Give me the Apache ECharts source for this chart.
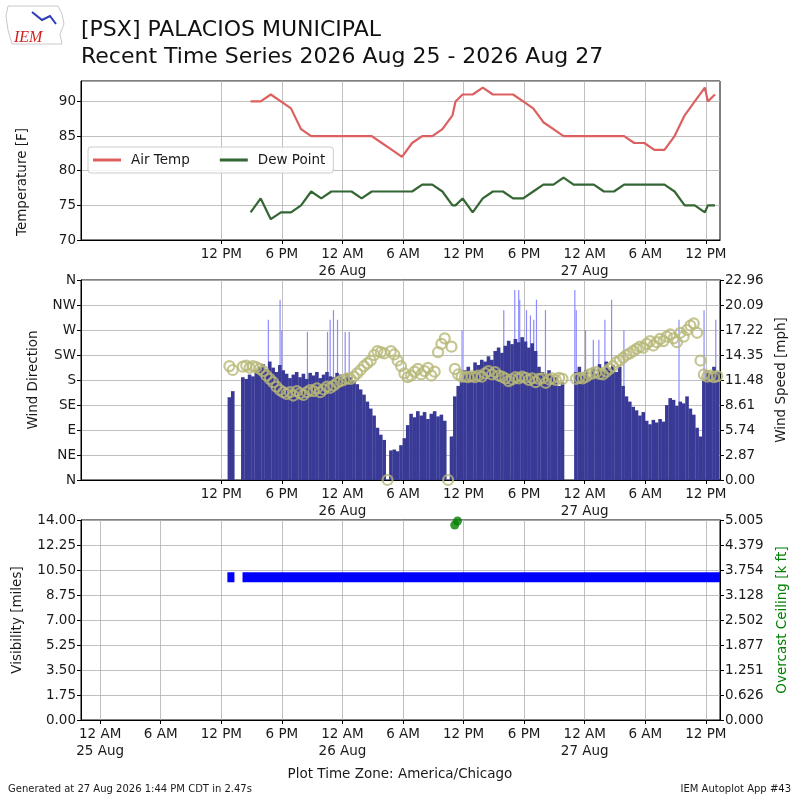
<!DOCTYPE html>
<html>
<head>
<meta charset="utf-8">
<title>PSX Recent Time Series</title>
<script src="https://cdn.jsdelivr.net/npm/echarts@6.0.0/dist/echarts.min.js"></script>
<style>
html, body { margin:0; padding:0; background:#fff; }
#chartDiv { width:800px; height:800px; }
</style>
</head>
<body>
<div id="chartDiv"></div>
<script>
// all times are hours counted from 25 Aug 2026 12 AM (America/Chicago)
var obsHours = [14.9, 15.9, 16.9, 17.9, 18.9, 19.9, 20.9, 21.9, 22.9, 23.9, 24.9, 25.9, 26.9, 27.9, 28.9,
    29.9, 30.9, 31.9, 32.9, 33.9, 34.9, 35.2, 35.9, 36.9, 37.9, 38.9, 39.9, 40.9, 41.9, 42.9, 43.9,
    44.9, 45.9, 46.9, 47.9, 48.9, 49.9, 50.9, 51.9, 52.9, 53.9, 54.9, 55.9, 56.9, 57.9, 58.9, 59.9,
    60.2, 60.9];
var airTemp = [90, 90, 91, 90, 89, 86, 85, 85, 85, 85, 85, 85, 85, 84, 83, 82, 84, 85, 85, 86, 88,
    90, 91, 91, 92, 91, 91, 91, 90, 89, 87, 86, 85, 85, 85, 85, 85, 85, 85, 84, 84, 83, 83, 85, 88,
    90, 92, 90, 91];
var dewPoint = [74, 76, 73, 74, 74, 75, 77, 76, 77, 77, 77, 76, 77, 77, 77, 77, 77, 78, 78, 77, 75,
    75, 76, 74, 76, 77, 77, 76, 76, 77, 78, 78, 79, 78, 78, 78, 77, 77, 78, 78, 78, 78, 78, 77, 75,
    75, 74, 75, 75];

// wind, one value per 20 minutes starting at windStart
var windStart = 12.8;
var windStep = 1 / 3;
var windSpeed = [9.5, 10.2, null, null, 11.8, 11.6, 12.1, 11.9,
    12.6, 13.0, 13.3, 12.7, 13.6, 12.9, 12.4, 13.2, 12.6,
    12.2, 11.7, 12.1, 12.4, 11.8, 12.2, 11.6, 12.3, 12.0, 12.4, 11.7, 12.1, 12.4, 11.9,
    11.8, 12.3, 12.1, 11.6, 12.2, 11.8, 11.4,
    11.0, 10.4, 9.8, 9.0, 8.2, 7.4, 6.0, 5.2, 4.6, 0,
    3.4, 3.5, 3.3, 4.0, 4.8, 6.3,
    7.6, 7.2, 7.9, 7.4, 7.8, 7.0, 7.6, 7.9, 7.3, 7.5, 6.8, 0, 5.0,
    9.6, 10.8, 11.4, 12.6, 13.0, 12.4, 13.5, 13.2, 13.8,
    13.6, 14.2, 13.8, 14.8, 15.2, 14.6,
    15.4, 16.0, 15.6, 16.2, 15.8, 16.4, 15.9, 15.2, 15.7, 14.8,
    13.0, 12.4, 12.2, 12.6, 12.0, 11.8, 10.8, 11.2, null, null, null,
    12.4, 13.0, 12.0, 12.6, 11.8, 12.9, 12.2, 13.3, 12.5, 13.6, 12.8, 13.2, 12.4, 13.0,
    10.8, 9.6, 9.0, 8.4, 8.0, 7.4, 7.8,
    6.8, 6.4, 6.9, 6.6, 7.0, 6.7, 8.6, 9.4,
    9.2, 8.5, 9.0, 8.8, 9.6, 8.2, 7.5, 6.0, 5.0,
    11.4, 12.6, 12.2, 13.0, 12.4];
var windDir = [205, 198, null, null, 204, 206, 202, 205,
    203, 200, 196, 188, 182, 176, 168, 162, 158,
    155, 158, 152, 160, 156, 153, 158, 162, 160, 165, 158, 163, 168, 166,
    170, 175, 178, 180, 183, 182, 186,
    192, 198, 205, 210, 215, 225, 232, 230, 228, 0,
    232, 226, 215, 205, 192, 185,
    188, 195, 200, 190, 196, 202, 188, 195, 230, 245, 255, 0, 240,
    200, 190, 186, 186, 185, 187, 185, 188, 186,
    192, 196, 190, 194, 188, 186,
    183, 178, 181, 185, 183, 186, 184, 180, 183, 176,
    182, 183, 175, 181, 183, 180, 184, 182, null, null, null,
    182, 184, 183, 186, 190, 192, 194, 191, 190, 195, 200, 205, 212, 215,
    220, 225, 228, 232, 236, 240, 238,
    245, 250, 242, 248, 254, 250, 258, 262,
    255, 248, 265, 258, 270, 278, 282, 265, 215,
    190, 186, 188, 185, 187];
var gustHours = [16.66, 17.82, 17.99, 20.53, 22.52, 22.78, 23.11, 23.51, 24.27, 24.67, 35.85, 39.98,
    41.07, 41.46, 41.56, 42.23, 42.62, 42.95, 43.22, 44.11, 47.02, 47.16, 48.08, 48.85, 49.4, 50.0,
    50.66, 51.88, 57.34, 59.82, 60.98];
var gustSpeed = [18.4, 20.7, 17.2, 17.0, 17.0, 18.4, 19.5, 18.4, 17.0, 17.0, 17.2, 19.5,
    21.8, 21.8, 20.7, 19.5, 18.9, 18.4, 20.7, 19.5, 21.8, 19.5, 17.2, 16.1, 16.1, 18.4,
    20.7, 17.2, 18.4, 19.5, 18.4];

var visHours = [12.6, 13.3, 13.4, 13.6, 13.7, 14.1, 61.4];
var visMiles = [10, 10, null, 10, null, 10, 10];
var ceilHours = [35.12, 35.4];
var ceilKft = [4.88, 4.98];

var topTicks = [12, 18, 24, 30, 36, 42, 48, 54, 60];
var bottomTicks = [0, 6, 12, 18, 24, 30, 36, 42, 48, 54, 60];
var dirLabels = ['N', 'NE', 'E', 'SE', 'S', 'SW', 'W', 'NW', 'N'];
var speedLabels = ['0.00', '2.87', '5.74', '8.61', '11.48', '14.35', '17.22', '20.09', '22.96'];
var visLabels = ['0.00', '1.75', '3.50', '5.25', '7.00', '8.75', '10.50', '12.25', '14.00'];
var ceilLabels = ['0.000', '0.626', '1.251', '1.877', '2.502', '3.128', '3.754', '4.379', '5.005'];

var xMin = -1.9, xMax = 61.4;
var font = 'DejaVu Sans';

function pairs(xs, ys){
    var out = [];
    for(var i = 0; i < xs.length; i++){
        out.push([xs[i], ys[i] == null ? '-' : ys[i]]);
    }
    return out;
}

function windPairs(vals){
    var out = [];
    for(var i = 0; i < vals.length; i++){
        if(vals[i] != null) out.push([windStart + i * windStep, vals[i]]);
    }
    return out;
}

function timeLabel(h){
    h = Math.round(h);
    var hh = ((h % 24) + 24) % 24;
    var s = {0: '12 AM', 6: '6 AM', 12: '12 PM', 18: '6 PM'}[hh];
    if(hh == 0) s += '\n' + (25 + h / 24) + ' Aug';
    return s;
}

function timeAxis(grid, ticks){
    return {
        type: 'value', gridIndex: grid, min: xMin, max: xMax,
        axisLine: {show: true, onZero: false, lineStyle: {color: '#000', width: 1}},
        axisTick: {show: true, customValues: ticks, length: 4, lineStyle: {color: '#000'}},
        axisLabel: {customValues: ticks, formatter: timeLabel, color: '#1a1a1a', fontFamily: font,
            fontSize: 13.5, lineHeight: 17, margin: 6},
        splitLine: {show: true, lineStyle: {color: '#b0b0b0', width: 0.8}}
    };
}

function valueAxis(grid, min, max, interval, labels, pos, grid_lines){
    return {
        type: 'value', gridIndex: grid, min: min, max: max, interval: interval, position: pos,
        axisLine: {show: true, onZero: false, lineStyle: {color: '#000', width: 1}},
        axisTick: {show: true, length: 4, lineStyle: {color: '#000'}},
        axisLabel: {color: '#1a1a1a', fontFamily: font, fontSize: 13.5, margin: 5, showMaxLabel: labels ? true : false,
            formatter: labels ? function(v){ return labels[Math.round((v - min) / interval)]; } : null},
        splitLine: {show: grid_lines, lineStyle: {color: '#b0b0b0', width: 0.8}}
    };
}

function rotText(text, x, y, color){
    return {type: 'text', x: x, y: y, rotation: Math.PI / 2,
        style: {text: text, fill: color || '#1a1a1a', font: '13.5px ' + font, align: 'center', verticalAlign: 'middle'}};
}

var chart = echarts.init(document.getElementById('chartDiv'));

var option = {
    animation: false,
    backgroundColor: '#fff',
    grid: [
        {left: 81, right: 80, top: 81, height: 159, show: true, borderColor: '#000', borderWidth: 1, backgroundColor: '#fff'},
        {left: 81, right: 80, top: 280, height: 200, show: true, borderColor: '#000', borderWidth: 1, backgroundColor: '#fff'},
        {left: 81, right: 80, top: 520, height: 200, show: true, borderColor: '#000', borderWidth: 1, backgroundColor: '#fff'}
    ],
    xAxis: [timeAxis(0, topTicks), timeAxis(1, topTicks), timeAxis(2, bottomTicks)],
    yAxis: [
        valueAxis(0, 70, 92.95, 5, null, 'left', true),
        valueAxis(1, 0, 360, 45, dirLabels, 'left', true),
        valueAxis(1, 0, 22.96, 2.87, speedLabels, 'right', false),
        valueAxis(2, 0, 14, 1.75, visLabels, 'left', true),
        valueAxis(2, 0, 5.005, 0.625625, ceilLabels, 'right', false)
    ],
    legend: {
        data: ['Air Temp', 'Dew Point'],
        left: 88, top: 147, icon: 'rect', itemWidth: 28, itemHeight: 3, itemGap: 30,
        padding: [6, 8, 6, 5], borderColor: '#cccccc', borderWidth: 1, borderRadius: 3,
        backgroundColor: 'rgba(255,255,255,0.8)',
        textStyle: {fontFamily: font, fontSize: 13.5, color: '#1a1a1a', padding: [0, 0, 0, 5]}
    },
    series: [
        {name: 'Air Temp', type: 'line', xAxisIndex: 0, yAxisIndex: 0, data: pairs(obsHours, airTemp),
            showSymbol: false, symbol: 'none', lineStyle: {color: '#dd6060', width: 2.2}, itemStyle: {color: '#dd6060'}},
        {name: 'Dew Point', type: 'line', xAxisIndex: 0, yAxisIndex: 0, data: pairs(obsHours, dewPoint),
            showSymbol: false, symbol: 'none', lineStyle: {color: '#336633', width: 2.2}, itemStyle: {color: '#336633'}},
        {name: 'Gust', type: 'custom', xAxisIndex: 1, yAxisIndex: 2, data: pairs(gustHours, gustSpeed),
            encode: {x: 0, y: 1}, z: 1,
            renderItem: function(params, api){
                var p0 = api.coord([api.value(0), 0]);
                var p1 = api.coord([api.value(0), api.value(1)]);
                return {type: 'line', shape: {x1: p0[0], y1: p0[1], x2: p1[0], y2: p1[1]},
                    style: {stroke: '#8c8cff', lineWidth: 1.2}};
            }},
        {name: 'Wind Speed', type: 'bar', xAxisIndex: 1, yAxisIndex: 2, data: windPairs(windSpeed),
            barWidth: 3.6, z: 2, itemStyle: {color: '#393996'}},
        {name: 'Wind Direction', type: 'scatter', xAxisIndex: 1, yAxisIndex: 1, data: windPairs(windDir),
            symbol: 'circle', symbolSize: 10, z: 3,
            itemStyle: {color: 'rgba(0,0,0,0)', borderColor: '#b8b878', borderWidth: 2.2}},
        {name: 'Visibility', type: 'line', xAxisIndex: 2, yAxisIndex: 3, data: pairs(visHours, visMiles),
            showSymbol: false, connectNulls: false, lineStyle: {color: '#0000ff', width: 10}},
        {name: 'Ceiling', type: 'scatter', xAxisIndex: 2, yAxisIndex: 4, data: pairs(ceilHours, ceilKft),
            symbolSize: 9, itemStyle: {color: '#008000'}}
    ],
    graphic: [
        {type: 'text', x: 81, y: 30, style: {text: '[PSX] PALACIOS MUNICIPAL', fill: '#111', font: '22px ' + font, verticalAlign: 'middle'}},
        {type: 'text', x: 81, y: 57, style: {text: 'Recent Time Series 2026 Aug 25 - 2026 Aug 27', fill: '#111', font: '22px ' + font, verticalAlign: 'middle'}},
        {type: 'polyline', shape: {points: [[8, 6], [58, 6], [62, 14], [64, 24], [60, 34], [62, 44], [12, 44], [8, 30], [6, 16], [8, 6]]},
            style: {stroke: '#c8c8c8', fill: null, lineWidth: 1}},
        {type: 'polyline', shape: {points: [[32, 12], [42, 20], [50, 16], [56, 24]]}, style: {stroke: '#2a3ab8', fill: null, lineWidth: 2}},
        {type: 'text', x: 14, y: 38, style: {text: 'IEM', fill: '#d02020', font: 'italic 16px "Liberation Serif"', verticalAlign: 'middle'}},
        rotText('Temperature [F]', 22, 182),
        rotText('Wind Direction', 33, 380),
        rotText('Wind Speed [mph]', 781, 380),
        rotText('Visibility [miles]', 17, 620),
        rotText('Overcast Ceiling [k ft]', 782, 620, '#008000'),
        {type: 'text', x: 400, y: 774, style: {text: 'Plot Time Zone: America/Chicago', fill: '#1a1a1a', font: '13.5px ' + font, align: 'center', verticalAlign: 'middle'}},
        {type: 'text', x: 8, y: 789, style: {text: 'Generated at 27 Aug 2026 1:44 PM CDT in 2.47s', fill: '#1a1a1a', font: '10px ' + font, verticalAlign: 'middle'}},
        {type: 'text', x: 791, y: 789, style: {text: 'IEM Autoplot App #43', fill: '#1a1a1a', font: '10px ' + font, align: 'right', verticalAlign: 'middle'}}
    ]
};
chart.setOption(option);
</script>
</body>
</html>
